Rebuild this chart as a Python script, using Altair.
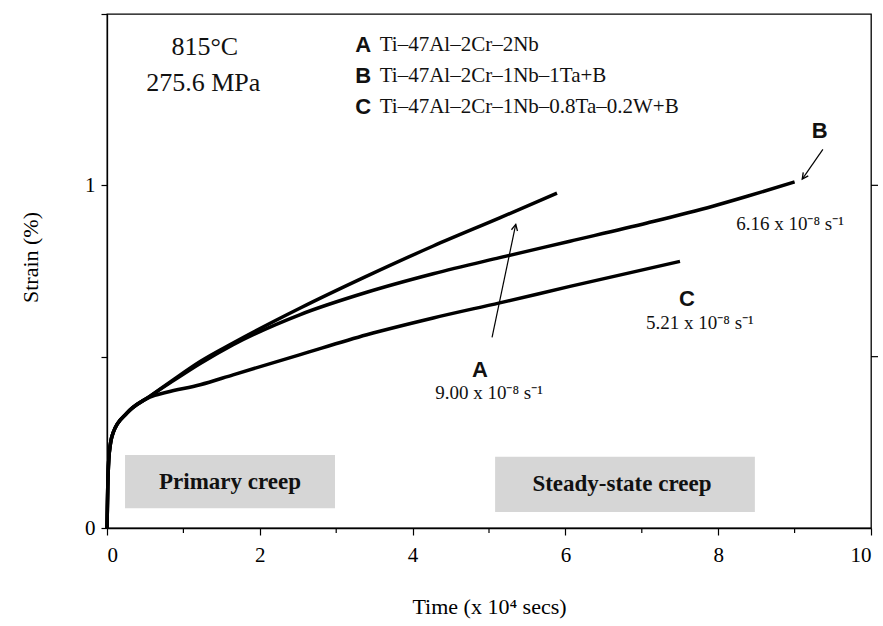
import altair as alt
import pandas as pd

# ---- data ----
a_time = [0, 0.01, 0.03, 0.08, 0.26, 0.56, 0.87, 1.22, 1.65, 2.53, 3.40, 4.27, 5.14, 5.89]
a_strain = [0, 0.12, 0.22, 0.278, 0.335, 0.384, 0.433, 0.486, 0.54, 0.642, 0.735, 0.823, 0.905, 0.977]

b_time = [0, 0.01, 0.03, 0.08, 0.26, 0.56, 0.87, 1.22, 1.65, 2.53, 3.40, 4.27, 5.14, 6.06, 7.07, 7.93, 8.38, 9.0]
b_strain = [0, 0.12, 0.22, 0.278, 0.335, 0.384, 0.43, 0.48, 0.535, 0.623, 0.688, 0.742, 0.789, 0.837, 0.89, 0.939, 0.968, 1.01]

c_time = [0, 0.01, 0.03, 0.08, 0.26, 0.56, 0.78, 1.22, 1.65, 2.53, 3.40, 4.27, 5.14, 6.06, 7.5]
c_strain = [0, 0.12, 0.22, 0.278, 0.335, 0.382, 0.396, 0.418, 0.447, 0.506, 0.564, 0.613, 0.657, 0.705, 0.778]

x_major = [0, 2, 4, 6, 8, 10]
x_minor = [1, 3, 5, 7, 9]
y_ticks = [0, 0.5, 1, 1.5]
right_ticks = [0.5, 1.0]

cond_text = ["815°C", "275.6 MPa"]
cond_x = [1.28, 1.26]
cond_y = [1.405, 1.298]

legend_letters = ["A", "B", "C"]
legend_names = ["Ti–47Al–2Cr–2Nb", "Ti–47Al–2Cr–1Nb–1Ta+B", "Ti–47Al–2Cr–1Nb–0.8Ta–0.2W+B"]
legend_letter_x = [3.25, 3.25, 3.25]
legend_text_x = [3.57, 3.57, 3.57]
legend_y = [1.409, 1.319, 1.228]

curve_letters = ["A", "B", "C"]
curve_letter_x = [4.88, 9.33, 7.59]
curve_letter_y = [0.462, 1.158, 0.667]
rate_text = ["9.00 x 10⁻⁸ s⁻¹", "6.16 x 10⁻⁸ s⁻¹", "5.21 x 10⁻⁸ s⁻¹"]
rate_x = [5.0, 8.94, 7.76]
rate_y = [0.395, 0.886, 0.599]

arrow_x1 = [5.04, 9.37]
arrow_y1 = [0.556, 1.105]
arrow_x2 = [5.35, 9.10]
arrow_y2 = [0.886, 1.018]
arrow_angle = [12, 215]

box_label = ["Primary creep", "Steady-state creep"]
box_x1 = [0.236, 5.08]
box_x2 = [2.984, 8.48]
box_y1 = [0.058, 0.047]
box_y2 = [0.213, 0.208]
box_text_x = [1.61, 6.74]
box_text_y = [0.135, 0.129]

SERIF = "Liberation Serif"
SANS = "Liberation Sans"

curves = pd.concat([
    pd.DataFrame({"t": a_time, "s": a_strain, "alloy": "A"}),
    pd.DataFrame({"t": b_time, "s": b_strain, "alloy": "B"}),
    pd.DataFrame({"t": c_time, "s": c_strain, "alloy": "C"}),
])

xs = alt.Scale(domain=[0, 10], nice=False, zero=False)
ys = alt.Scale(domain=[0, 1.5], nice=False, zero=False)

boxes_df = pd.DataFrame({"x1": box_x1, "x2": box_x2, "y1": box_y1, "y2": box_y2,
                         "label": box_label, "tx": box_text_x, "ty": box_text_y})

boxes = alt.Chart(boxes_df).mark_rect(color="#d6d6d6").encode(
    x=alt.X("x1:Q", scale=xs, axis=alt.Axis(
        values=x_major, format="d", title="Time  (x 10⁴ secs)", grid=False, tickSize=7,
        labelPadding=20, labelBaseline="middle", labelFontSize=21, labelFont=SERIF,
        titleFont=SERIF, titleFontSize=22, titleFontWeight="normal", titleY=78,
        titleBaseline="middle", labelColor="black", titleColor="black",
        domainColor="black", tickColor="black", domainWidth=1.3, tickWidth=1.2)),
    x2="x2:Q",
    y=alt.Y("y1:Q", scale=ys, axis=alt.Axis(
        values=y_ticks, format="~g", title="Strain  (%)", grid=False, tickSize=6,
        labelExpr="datum.value == 0 || datum.value == 1 ? datum.label : ''",
        labelPadding=6, labelFontSize=21, labelFont=SERIF,
        titleFont=SERIF, titleFontSize=22, titleFontWeight="normal",
        titleX=-77, titleY=243, titleAngle=-90, titleAlign="center", titleBaseline="middle",
        labelColor="black", titleColor="black",
        domainColor="black", tickColor="black", domainWidth=1.3, tickWidth=1.2)),
    y2="y2:Q",
)

box_text = alt.Chart(boxes_df).mark_text(font=SERIF, fontSize=23, fontWeight="bold",
                                         color="#111111").encode(
    x=alt.X("tx:Q", scale=xs), y=alt.Y("ty:Q", scale=ys), text="label:N")

lines = alt.Chart(curves).mark_line(color="black", strokeWidth=3.5,
                                    interpolate="monotone").encode(
    x=alt.X("t:Q", scale=xs), y=alt.Y("s:Q", scale=ys), detail="alloy:N")

minor = alt.Chart(pd.DataFrame({"v": x_minor})).mark_rule(color="black", strokeWidth=1.2).encode(
    x=alt.X("v:Q", scale=xs), y=alt.value(514), y2=alt.value(519))

rticks = alt.Chart(pd.DataFrame({"v": right_ticks})).mark_rule(color="black", strokeWidth=1.2).encode(
    y=alt.Y("v:Q", scale=ys), x=alt.value(764), x2=alt.value(771))

cond = alt.Chart(pd.DataFrame({"x": cond_x, "y": cond_y, "t": cond_text})).mark_text(
    font=SERIF, fontSize=26, color="#111111").encode(
    x=alt.X("x:Q", scale=xs), y=alt.Y("y:Q", scale=ys), text="t:N")

leg_df = pd.DataFrame({"lx": legend_letter_x, "tx": legend_text_x, "y": legend_y,
                       "letter": legend_letters, "name": legend_names})
leg_letters = alt.Chart(leg_df).mark_text(font=SANS, fontSize=22, fontWeight="bold",
                                          align="left", color="#111111").encode(
    x=alt.X("lx:Q", scale=xs), y=alt.Y("y:Q", scale=ys), text="letter:N")
leg_names = alt.Chart(leg_df).mark_text(font=SERIF, fontSize=21, align="left",
                                        color="#111111").encode(
    x=alt.X("tx:Q", scale=xs), y=alt.Y("y:Q", scale=ys), text="name:N")

cl_df = pd.DataFrame({"x": curve_letter_x, "y": curve_letter_y, "t": curve_letters,
                      "rx": rate_x, "ry": rate_y, "rt": rate_text})
c_letters = alt.Chart(cl_df).mark_text(font=SANS, fontSize=22, fontWeight="bold",
                                       color="#111111").encode(
    x=alt.X("x:Q", scale=xs), y=alt.Y("y:Q", scale=ys), text="t:N")
rates = alt.Chart(cl_df).mark_text(font=SERIF, fontSize=19, color="#111111").encode(
    x=alt.X("rx:Q", scale=xs), y=alt.Y("ry:Q", scale=ys), text="rt:N")

arr_df = pd.DataFrame({"x1": arrow_x1, "y1": arrow_y1, "x2": arrow_x2, "y2": arrow_y2,
                       "ang": arrow_angle})
arr_lines = alt.Chart(arr_df).mark_rule(color="black", strokeWidth=1.2).encode(
    x=alt.X("x1:Q", scale=xs), y=alt.Y("y1:Q", scale=ys), x2="x2:Q", y2="y2:Q")
arr_heads = alt.Chart(arr_df).mark_point(
    shape="M -0.5 1 L 0 0 L 0.5 1", filled=False, color="black", strokeWidth=1.3,
    size=150, opacity=1).encode(
    x=alt.X("x2:Q", scale=xs), y=alt.Y("y2:Q", scale=ys),
    angle=alt.Angle("ang:Q", scale=None))

chart = alt.layer(
    boxes, box_text, lines, minor, rticks, cond, leg_letters, leg_names,
    c_letters, rates, arr_lines, arr_heads
).properties(
    width=764, height=514,
    padding={"left": 107, "top": 14, "right": 12, "bottom": 98},
    autosize=alt.AutoSizeParams(type="none"),
    background="white",
).configure_view(stroke="black", strokeWidth=1.3)

chart.save("out.html", embed_options={"renderer": "svg", "actions": False})
